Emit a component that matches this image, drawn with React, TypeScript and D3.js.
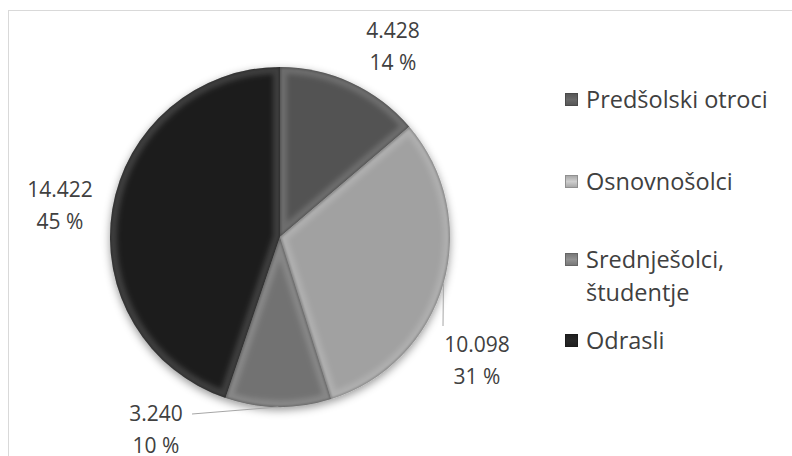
import React from "react";
import * as d3 from "d3";

const categories = ["Predšolski otroci", "Osnovnošolci", "Srednješolci, študentje", "Odrasli"];
const values = [4428, 10098, 3240, 14422];
const colors = ["#626262", "#c0c0c0", "#888888", "#242424"];
const legendLines = [["Predšolski otroci"], ["Osnovnošolci"], ["Srednješolci,", "študentje"], ["Odrasli"]];

const W = 792, H = 456;
const cx = 280, cy = 237, R = 170;
// label layout: center x, first baseline y, optional leader end
const labelPos = [
  { x: 393, y: 38, leader: null as null | [number, number] },
  { x: 477, y: 352, leader: [443, 326] as [number, number] },
  { x: 156, y: 421, leader: [192, 414] as [number, number] },
  { x: 60, y: 197, leader: null as null | [number, number] },
];
const legendY = [100, 182, 260, 341];

const loc = d3.formatLocale({ decimal: ",", thousands: ".", grouping: [3], currency: ["", ""] });
const fmt = loc.format(",d");

export default function App() {
  const total = d3.sum(values);
  const pie = d3.pie<number>().sort(null).value((d) => d);
  const arcs = pie(values);
  const arc = d3.arc<d3.PieArcDatum<number>>().innerRadius(0).outerRadius(R);
  const font = "'Open Sans', 'DejaVu Sans', sans-serif";
  const textColor = "#404040";

  return (
    <svg width={W} height={H} style={{ position: "absolute", left: 0, top: 0, background: "#fff" }}>
      <defs>
        <filter id="shadow" x="-20%" y="-20%" width="140%" height="140%">
          <feDropShadow dx="0" dy="3" stdDeviation="4" floodColor="#000" floodOpacity="0.4" />
        </filter>
        <filter id="blur" x="-10%" y="-10%" width="120%" height="120%">
          <feGaussianBlur stdDeviation="2.5" />
        </filter>
        <filter id="blurS" x="-10%" y="-10%" width="120%" height="120%">
          <feGaussianBlur stdDeviation="0.8" />
        </filter>
        {colors.map((c, i) => {
          const base = d3.color(c)!;
          return (
            <radialGradient key={i} id={`rg${i}`} gradientUnits="userSpaceOnUse" cx={cx} cy={cy} r={R}>
              <stop offset="0" stopColor={base.formatHex()} />
              <stop offset="0.9" stopColor={base.formatHex()} />
              <stop offset="0.97" stopColor={base.darker(0.15).formatHex()} />
              <stop offset="1" stopColor={base.darker(0.5).formatHex()} />
            </radialGradient>
          );
        })}
        {arcs.map((a, i) => (
          <clipPath key={i} id={`clip${i}`}>
            <path d={arc(a)!} transform={`translate(${cx},${cy})`} />
          </clipPath>
        ))}
        {colors.map((c, i) => {
          const base = d3.color(c)!;
          return (
            <linearGradient key={i} id={`lg${i}`} x1="0" y1="0" x2="0" y2="1">
              <stop offset="0" stopColor={base.darker(0.4).formatHex()} />
              <stop offset="0.5" stopColor={base.brighter(0.2).formatHex()} />
              <stop offset="1" stopColor={base.darker(0.4).formatHex()} />
            </linearGradient>
          );
        })}
      </defs>
      <rect x={8.5} y={10.5} width={W + 20} height={H + 20} fill="#fff" stroke="#d9d9d9" strokeWidth={1} />

      <g filter="url(#shadow)">
        {arcs.map((a, i) => (
          <path key={i} d={arc(a)!} transform={`translate(${cx},${cy})`} fill={`url(#rg${i})`} />
        ))}
      </g>
      {arcs.map((a, i) => (
        <g key={i} clipPath={`url(#clip${i})`}>
          <path
            d={arc(a)!}
            transform={`translate(${cx},${cy})`}
            fill="none"
            stroke="#fff"
            strokeOpacity={0.15}
            strokeWidth={14}
            filter="url(#blur)"
          />
          <path
            d={arc(a)!}
            transform={`translate(${cx},${cy})`}
            fill="none"
            stroke="#000"
            strokeOpacity={0.3}
            strokeWidth={2}
            filter="url(#blurS)"
          />
        </g>
      ))}

      {arcs.map((a, i) => {
        const mid = (a.startAngle + a.endAngle) / 2;
        const rx = cx + R * Math.sin(mid);
        const ry = cy - R * Math.cos(mid);
        const lp = labelPos[i];
        const pct = Math.round((values[i] / total) * 100);
        return (
          <g key={i}>
            {lp.leader && (
              <line x1={rx} y1={ry} x2={lp.leader[0]} y2={lp.leader[1]} stroke="#a6a6a6" strokeWidth={1} />
            )}
            <text x={lp.x} y={lp.y} textAnchor="middle" fontFamily={font} fontSize={21} fill={textColor}>
              {fmt(values[i])}
            </text>
            <text x={lp.x} y={lp.y + 32} textAnchor="middle" fontFamily={font} fontSize={21} fill={textColor}>
              {`${pct} %`}
            </text>
          </g>
        );
      })}

      {categories.map((c, i) => (
        <g key={c}>
          <rect x={565.5} y={legendY[i] - 6.5} width={12} height={12} fill={`url(#lg${i})`} stroke={d3.color(colors[i])!.darker(0.8).formatHex()} strokeWidth={1} />
          {legendLines[i].map((t, j) => (
            <text key={j} x={586} y={legendY[i] + 8 + j * 33} fontFamily={font} fontSize={23.5} fill={textColor}>
              {t}
            </text>
          ))}
        </g>
      ))}
    </svg>
  );
}
